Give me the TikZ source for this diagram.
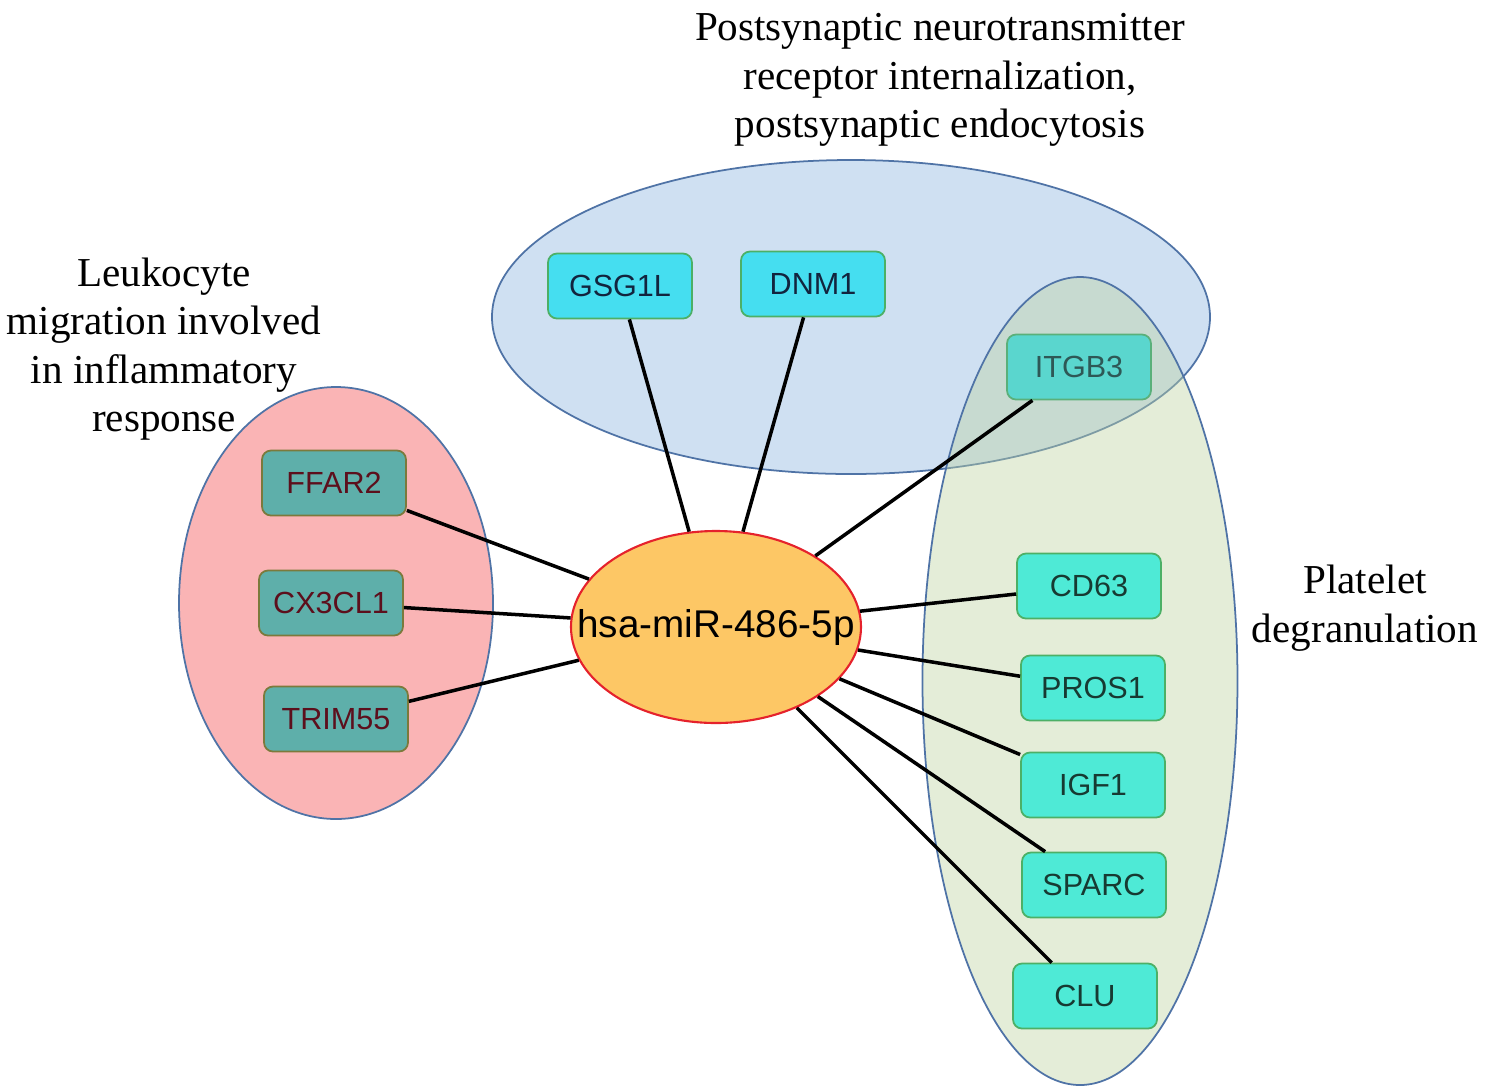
\documentclass[tikz,border=0pt]{standalone}
\usepackage{fontspec}
\setmainfont{Liberation Serif}
\newfontfamily\genefont{Liberation Sans}
\usetikzlibrary{shapes.geometric}
\definecolor{setblue}{HTML}{CFE0F2}
\definecolor{setred}{HTML}{FAB4B5}
\definecolor{setgreen}{HTML}{BED4A2}
\definecolor{ringblue}{HTML}{4F73A6}
\definecolor{mirorange}{HTML}{FDC765}
\definecolor{mirred}{HTML}{E5222C}
\definecolor{boxgreen}{HTML}{4CB066}
\begin{document}
\begin{tikzpicture}[
    %baseline,
    GE/.style={draw=ringblue,line width=0.5pt},
    GB/.style={draw=boxgreen,rounded corners=0.09cm,line width=0.5pt,minimum width=1.44cm,minimum height=0.65cm,inner sep=0pt,font=\genefont\fontsize{8.7}{10}\selectfont},
    GT/.style={fill={rgb,255:red,69;green,222;blue,240},text={rgb,255:red,18;green,36;blue,62}},
    GX/.style={fill={rgb,255:red,90;green,214;blue,206},text={rgb,255:red,46;green,88;blue,86},draw={rgb,255:red,90;green,176;blue,122}},
    GL/.style={fill={rgb,255:red,94;green,175;blue,170},text={rgb,255:red,92;green,15;blue,28},draw={rgb,255:red,123;green,122;blue,60}},
    GR/.style={fill={rgb,255:red,78;green,234;blue,214},text={rgb,255:red,23;green,58;blue,50}},
    MN/.style={ellipse,fill=mirorange,draw=mirred,line width=0.6pt,minimum width=2.9cm,minimum height=1.92cm,inner xsep=-0.5cm,inner ysep=0pt,font=\genefont\fontsize{11}{13}\selectfont},
    LB/.style={align=center,font=\fontsize{11.7}{13.8}\selectfont},
    LL/.style={draw=black,line width=1pt}
    ]
    \useasboundingbox (0,0) rectangle (14.97,-10.87);
    %\draw [help lines] (0,0) grid (15,-11);
    \draw [GE,fill=setblue] (8.51,-3.17) ellipse [x radius=3.59, y radius=1.57];
    \draw [GE,fill=setred] (3.36,-6.03) ellipse [x radius=1.57, y radius=2.16];
    \draw [GE,fill=setgreen,fill opacity=0.42] (10.80,-6.81) ellipse [x radius=1.575, y radius=4.04];
    \node [MN] (M) at (7.16,-6.27) {hsa-miR-486-5p};
    \node [GB,GT] (GSG1L) at (6.20,-2.86) {GSG1L};
    \node [GB,GT] (DNM1) at (8.13,-2.84) {DNM1};
    \node [GB,GX] (ITGB3) at (10.79,-3.67) {ITGB3};
    \node [GB,GL] (FFAR2) at (3.34,-4.83) {FFAR2};
    \node [GB,GL] (CX3CL1) at (3.31,-6.03) {CX3CL1};
    \node [GB,GL] (TRIM55) at (3.36,-7.19) {TRIM55};
    \node [GB,GR] (CD63) at (10.89,-5.86) {CD63};
    \node [GB,GR] (PROS1) at (10.93,-6.88) {PROS1};
    \node [GB,GR] (IGF1) at (10.93,-7.85) {IGF1};
    \node [GB,GR] (SPARC) at (10.94,-8.85) {SPARC};
    \node [GB,GR] (CLU) at (10.85,-9.96) {CLU};
    \foreach \g in {GSG1L,DNM1,ITGB3,FFAR2,CX3CL1,TRIM55,CD63,PROS1,IGF1,SPARC,CLU}
      \draw [LL] (M) -- (\g);
    \node [LB] (postsyn) at (9.40,-0.80) {Postsynaptic neurotransmitter\\receptor internalization,\\postsynaptic endocytosis};
    \node [LB] (leuko) at (1.64,-3.49) {Leukocyte\\migration involved\\in inflammatory\\response};
    \node [LB] (plate) at (13.65,-6.08) {Platelet\\degranulation};
\end{tikzpicture}
\end{document}
